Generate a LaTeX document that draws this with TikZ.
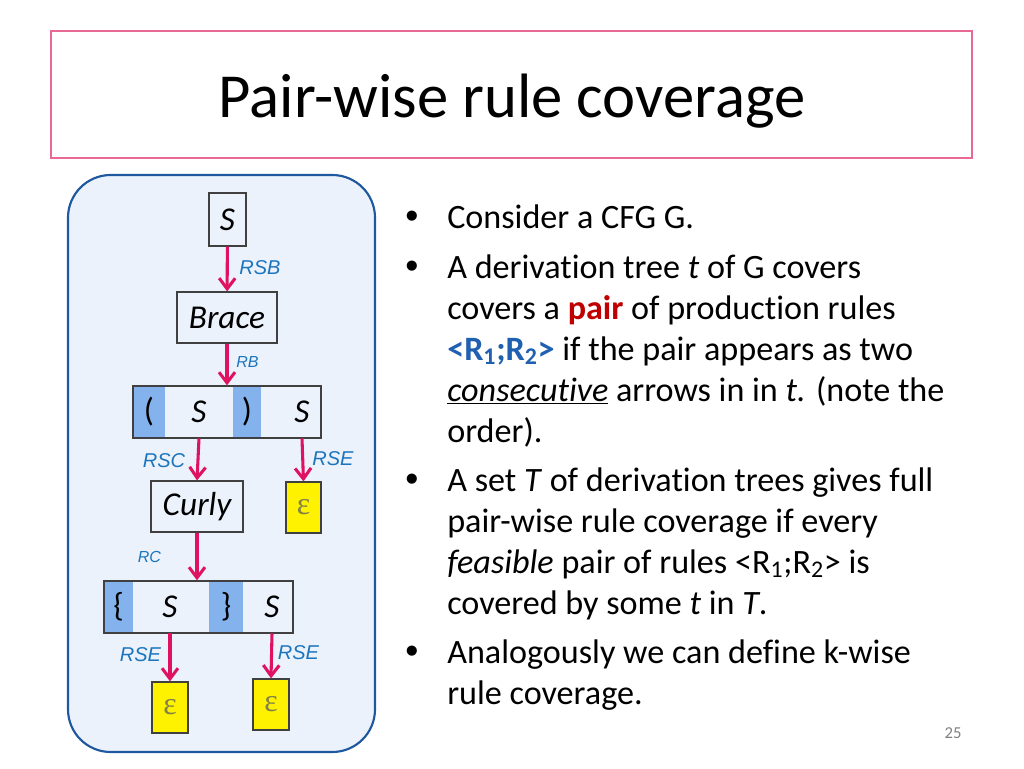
\documentclass[tikz,border=0pt]{standalone}
\usepackage{fontspec}
\setmainfont{Carlito}[Ligatures=NoCommon]
\newfontfamily\lblfont{Liberation Sans}
\newfontfamily\epsfont{Liberation Serif}
\usepackage{tikz}
\usetikzlibrary{arrows.meta}

\definecolor{titlepink}{RGB}{232,104,150}
\definecolor{panelblue}{RGB}{32,88,160}
\definecolor{panelfill}{RGB}{235,242,252}
\definecolor{cellblue}{RGB}{132,178,236}
\definecolor{rulepink}{RGB}{222,18,96}
\definecolor{lblblue}{RGB}{28,117,188}
\definecolor{pairred}{RGB}{192,0,0}
\definecolor{pairblue}{RGB}{32,96,176}
\definecolor{epsolive}{RGB}{130,130,70}

\tikzset{
  sz/.style 2 args={minimum width=#1*0.75pt, minimum height=#2*0.75pt},
  treebox/.style={draw=black!75, line width=0.9pt, inner sep=0pt, font=\fontsize{25}{28}\selectfont\itshape},
  rowbox/.style={draw=black!75, line width=0.9pt, inner sep=0pt},
  hlcell/.style={fill=cellblue, inner sep=0pt, font=\fontsize{25}{28}\selectfont},
  symcell/.style={inner sep=0pt, font=\fontsize{25}{28}\selectfont\itshape},
  epsbox/.style={draw=black!75, fill=yellow, line width=0.9pt, inner sep=0pt, text=epsolive, font=\epsfont\fontsize{24}{28}\selectfont},
  rulearrow/.style={draw=rulepink, line width=2.3pt, -{Straight Barb[length=8pt,width=12pt]}},
  rulelbl/.style={text=lblblue, inner sep=0pt, font=\lblfont\itshape\fontsize{15}{18}\selectfont},
  smalllbl/.style={rulelbl, font=\lblfont\itshape\fontsize{12}{14}\selectfont},
  bodytext/.style={anchor=base west, inner sep=0pt, font=\fontsize{25.6}{30.75}\selectfont},
  bulletmark/.style={anchor=base, inner sep=0pt, font=\lblfont\fontsize{28}{32}\selectfont}
}

\begin{document}
\begin{tikzpicture}[x=0.75pt,y=-0.75pt]
        \fill[white] (0,0) rectangle (1024,768);
        \useasboundingbox (0,0) rectangle (1024,768);

        \draw[titlepink, line width=1.3pt] (51,31) rectangle (972,158);
        \node[anchor=base, inner sep=0pt, font=\fontsize{47}{56}\selectfont] (title) at (512,117) {Pair-wise rule coverage};

        \draw[panelblue, fill=panelfill, line width=1.6pt, rounded corners=32pt] (68,175) rectangle (375,752);

        \node[treebox, sz={37}{53}] (s0) at (227.5,219.5) {S};
        \node[treebox, sz={100}{51}] (brace) at (227,317.5) {Brace};

        \node[hlcell, sz={32}{52}] (r1a) at (149,412) {(};
        \node[hlcell, sz={28}{52}] (r1b) at (247,412) {)};
        \node[rowbox, sz={188}{52}] (row1) at (227,412) {};
        \node[symcell, sz={40}{52}] (r1s) at (199,412) {S};
        \node[symcell, sz={40}{52}] (r1t) at (302,412) {S};

        \node[treebox, sz={92}{51}] (curly) at (197,506.5) {Curly};
        \node[epsbox, sz={35}{51}] (eps1) at (303.5,507.5) {ε};

        \node[hlcell, sz={29}{52}] (r2a) at (118.5,607) {\{};
        \node[hlcell, sz={34}{52}] (r2b) at (226,607) {\}};
        \node[rowbox, sz={189}{52}] (row2) at (198.5,607) {};
        \node[symcell, sz={40}{52}] (r2s) at (170,607) {S};
        \node[symcell, sz={40}{52}] (r2t) at (272,607) {S};

        \node[epsbox, sz={36}{51}] (eps2) at (170,707.5) {ε};
        \node[epsbox, sz={36}{51}] (eps3) at (271,704.5) {ε};

        \draw[rulearrow] (s0) -- (brace);
        \draw[rulearrow] (brace) -- (row1);
        \draw[rulearrow] (r1s.south) -- (curly.north);
        \draw[rulearrow] (r1t.south) -- (eps1.north);
        \draw[rulearrow] (curly.south) -- (curly.south |- row2.north);
        \draw[rulearrow] (r2s.south) -- (eps2.north);
        \draw[rulearrow] (r2t.south) -- (eps3.north);

        \node[rulelbl] (lsb) at (260,267.5) {RSB};
        \node[smalllbl] (lb) at (247.5,362) {RB};
        \node[rulelbl] (lsc) at (164,460.5) {RSC};
        \node[rulelbl] (lse1) at (333,459) {RSE};
        \node[smalllbl] (lc) at (149.5,556.5) {RC};
        \node[rulelbl] (lse2) at (140.5,654.5) {RSE};
        \node[rulelbl] (lse3) at (298.5,652.5) {RSE};

        \node[bulletmark] (b1) at (412,228) {•};
        \node[bodytext] (p1) at (447,228) {Consider a CFG G.};
        \node[bulletmark] (b2) at (412,278) {•};
        \node[bodytext] (p2) at (447,278) {\begin{tabular}[t]{@{}l@{}}
            A derivation tree \textit{t} of G covers\\
            covers a \textcolor{pairred}{\textbf{pair}} of production rules\\
            \textcolor{pairblue}{\textbf{<R\textsubscript{1};R\textsubscript{2}>}} if the pair appears as two\\
            \underline{\textit{consecutive}} arrows in in \textit{t.} (note the\\
            order).\end{tabular}};
        \node[bulletmark] (b3) at (412,491) {•};
        \node[bodytext] (p3) at (447,491) {\begin{tabular}[t]{@{}l@{}}
            A set \textit{T} of derivation trees gives full\\
            pair-wise rule coverage if every\\
            \textit{feasible} pair of rules <R\textsubscript{1};R\textsubscript{2}> is\\
            covered by some \textit{t} in \textit{T}.\end{tabular}};
        \node[bulletmark] (b4) at (412,663) {•};
        \node[bodytext] (p4) at (447,663) {\begin{tabular}[t]{@{}l@{}}
            Analogously we can define k-wise\\
            rule coverage.\end{tabular}};

        \node[inner sep=0pt, text=black!50, font=\fontsize{12.5}{15}\selectfont] (pgno) at (953,733) {25};
\end{tikzpicture}
\end{document}
